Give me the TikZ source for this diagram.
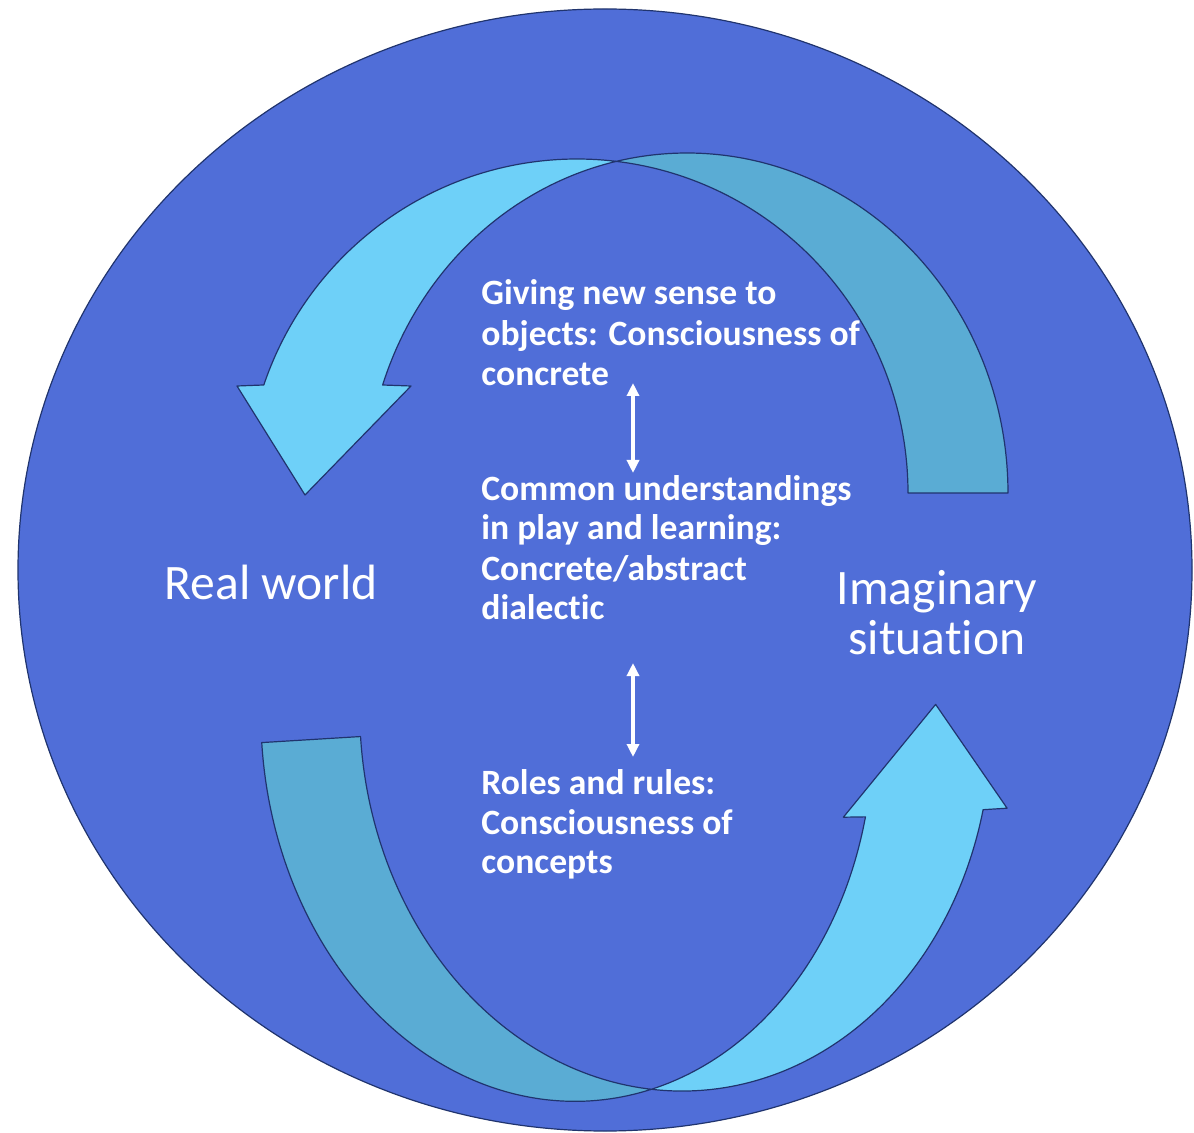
\documentclass[tikz,border=0pt]{standalone}
\usepackage{fontspec}
\setmainfont{Carlito}[Ligatures={NoCommon,NoRare,NoDiscretionary}]
\usetikzlibrary{arrows.meta}
\definecolor{discblue}{RGB}{80,110,216}
\definecolor{frontcyan}{RGB}{110,208,248}
\definecolor{backteal}{RGB}{90,172,212}
\definecolor{edgenavy}{RGB}{32,52,110}
\begin{document}
\begin{tikzpicture}[x=0.5pt,y=-0.5pt,
  bandline/.style={draw=edgenavy,line width=0.6pt,line join=round},
  midtext/.style={anchor=base west,inner sep=0pt,text=white,font=\fontsize{17.8}{20}\selectfont\bfseries},
  bigtext/.style={anchor=base,inner sep=0pt,text=white,font=\fontsize{24.8}{28}\selectfont},
  linkarrow/.style={white,line width=2pt,{Triangle[length=6.5pt,width=6pt]}-{Triangle[length=6.5pt,width=6pt]}}
]
\useasboundingbox (0,0) rectangle (1194,1133);
\fill[white] (0,0) rectangle (1194,1133);
% disc
\path[fill=discblue,draw=edgenavy,line width=0.6pt] (605,570) ellipse [x radius=587, y radius=561];
% top curved arrow: back (teal) part
\path[bandline,fill=backteal]
  plot[domain=0:-103,samples=90,smooth] ({687+321*cos(\x)},{493+340*sin(\x)})
  -- plot[domain=-83.4:0,samples=90,smooth] ({577+331*cos(\x)},{493+334*sin(\x)})
  -- cycle;
% top curved arrow: front (cyan) part with head
\path[bandline,fill=frontcyan]
  plot[domain=-103:-161.48,samples=90,smooth] ({687+321*cos(\x)},{493+340*sin(\x)})
  -- (411,386) -- (305,495) -- (237,386)
  -- plot[domain=-161.13:-83.4,samples=90,smooth] ({577+331*cos(\x)},{493+334*sin(\x)})
  -- cycle;
% bottom curved arrow (slightly rotated)
\begin{scope}[rotate around={3.5:(620,900)}]
\path[bandline,fill=backteal]
  plot[domain=180:78.46,samples=90,smooth] ({577.8+305.8*cos(\x)},{721+377.7*sin(\x)})
  -- plot[domain=98.67:180,samples=90,smooth] ({686.6+315.6*cos(\x)},{721+374*sin(\x)})
  -- cycle;
\path[bandline,fill=frontcyan]
  plot[domain=78.46:17.09,samples=90,smooth] ({577.8+305.8*cos(\x)},{721+377.7*sin(\x)})
  -- (848,831) -- (947,724) -- (1012,832)
  -- plot[domain=17.27:98.67,samples=90,smooth] ({686.6+315.6*cos(\x)},{721+374*sin(\x)})
  -- cycle;
\end{scope}
% texts
\node[midtext] (g1) at (481,305) {Giving new sense to};
\node[midtext] (g2) at (481,346) {objects: Consciousness of};
\node[midtext] (g3) at (481,386) {concrete};
\node[midtext] (c1) at (481,501) {Common understandings};
\node[midtext] (c2) at (481,540) {in play and learning:};
\node[midtext] (c3) at (481,581) {Concrete/abstract};
\node[midtext] (c4) at (481,620) {dialectic};
\node[midtext] (r1) at (481,794) {Roles and rules:};
\node[midtext] (r2) at (481,834) {Consciousness of};
\node[midtext] (r3) at (481,873) {concepts};
\node[bigtext] (rw) at (271,600) {Real world};
\node[bigtext] (im1) at (937,605) {Imaginary};
\node[bigtext] (im2) at (937,654) {situation};
% double arrows
\coordinate (ua) at (633,383);
\coordinate (ub) at (633,473);
\coordinate (la) at (633,663);
\coordinate (lb) at (633,757);
\draw[linkarrow] (ua) -- (ub);
\draw[linkarrow] (la) -- (lb);
\end{tikzpicture}
\end{document}
